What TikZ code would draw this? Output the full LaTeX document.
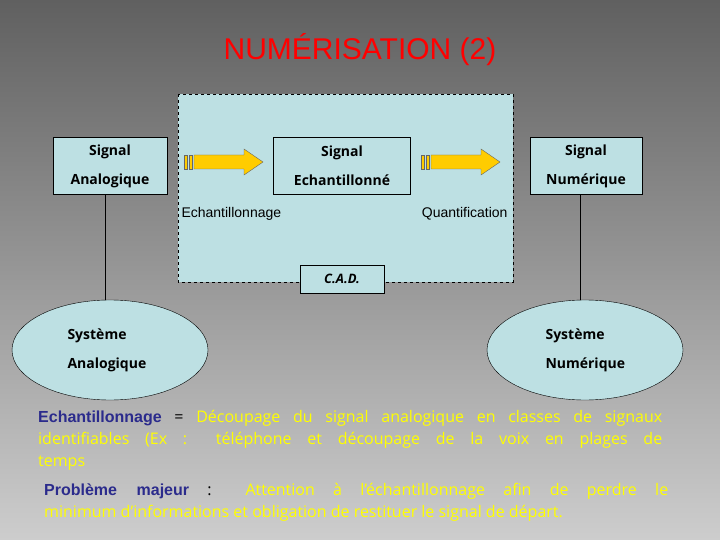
\documentclass[tikz,border=0pt]{standalone}
\usepackage{fontspec}
\setmainfont{Liberation Sans}
\newfontfamily\comic{Open Sans}
\usetikzlibrary{arrows.meta,positioning,shapes.geometric}
\definecolor{bgtop}{RGB}{96,96,96}
\definecolor{bgbot}{RGB}{205,205,205}
\definecolor{cadblue}{RGB}{189,224,227}
\definecolor{titlered}{RGB}{255,0,0}
\definecolor{txtblue}{RGB}{43,43,140}
\definecolor{txtyellow}{RGB}{255,255,0}
\definecolor{arrowgold}{RGB}{255,204,0}
\tikzset{
  sigbox/.style={draw=black, fill=cadblue, minimum height=57pt, align=center,
    font=\comic\bfseries\fontsize{14}{29}\selectfont},
  sysell/.style={draw=black, fill=cadblue, ellipse, minimum width=196pt, minimum height=100pt},
  systxt/.style={font=\comic\bfseries\fontsize{14}{29}\selectfont, align=left, anchor=west},
  fatarrow/.style={draw=black!60, fill=arrowgold},
  para/.style={anchor=north west, text width=624pt, align=justify, inner sep=0pt,
    font=\comic\fontsize{16}{22}\selectfont}
}
\newcommand\yellowarrow[1]{% start coordinate (left of stripes)
  \draw[fatarrow] (#1) ++(0,-7) rectangle ++(3,14);
  \draw[fatarrow] (#1) ++(5,-7) rectangle ++(3,14);
  \draw[fatarrow] (#1) ++(10,-7) -- ++(50,0) -- ++(0,-6) -- ++(19,13) -- ++(-19,13) -- ++(0,-6) -- ++(-50,0) -- cycle;
}
\begin{document}
\begin{tikzpicture}[x=1pt,y=-1pt]
\shade[top color=bgtop, bottom color=bgbot] (0,0) rectangle (720,540);
\useasboundingbox (0,0) rectangle (720,540);
% Title
\node[font=\fontsize{30}{34}\selectfont, text=titlered] (title) at (360,50) {NUMÉRISATION (2)};
% C.A.D. zone
\draw[dashed, fill=cadblue] (178,94) rectangle (513,282);
\node[draw=black, fill=cadblue, minimum width=84pt, minimum height=28pt,
  font=\comic\bfseries\itshape\fontsize{13}{15}\selectfont] (cad) at (342,279) {C.A.D.};
% Signals
\node[sigbox, minimum width=114pt] (sana) at (110,166) {Signal\\Analogique};
\node[sigbox, minimum width=137pt] (sech) at (342,166) {Signal\\Echantillonné};
\node[sigbox, minimum width=112pt] (snum) at (586,166) {Signal\\Numérique};
% Arrows
\coordinate (a1) at (184,162);
\coordinate (a2) at (421,162);
\yellowarrow{a1}
\yellowarrow{a2}
\node[anchor=west, font=\fontsize{14}{16}\selectfont] (lech) at (178,214) {Echantillonnage};
\node[anchor=east, font=\fontsize{14}{16}\selectfont] (lqua) at (511,214) {Quantification};
% Systems
\node[sysell] (eana) at (110,350) {};
\node[sysell] (enum) at (585,350) {};
\node[systxt] (tana) at (64,350) {Système\\Analogique};
\node[systxt] (tnum) at (542,350) {Système\\Numérique};
\draw (sana.south -| 105,0) -- (eana.north -| 105,0);
\draw (snum.south -| 580,0) -- (enum.north -| 580,0);
% Text
\node[para] (p1) at (38,410) {\hyphenpenalty=10000\textcolor{txtblue}{\fontspec{Liberation Sans}\bfseries Echantillonnage} = \textcolor{txtyellow}{Découpage du signal analogique en classes de signaux\linebreak identifiables (Ex : téléphone et découpage de la voix en plages de\linebreak temps}};
\node[para] (p2) at (44,483) {\hyphenpenalty=10000\textcolor{txtblue}{\fontspec{Liberation Sans}\bfseries Problème majeur} : \textcolor{txtyellow}{Attention à l’échantillonnage afin de perdre le\linebreak minimum d’informations et obligation de restituer le signal de départ.}};
\end{tikzpicture}
\end{document}
